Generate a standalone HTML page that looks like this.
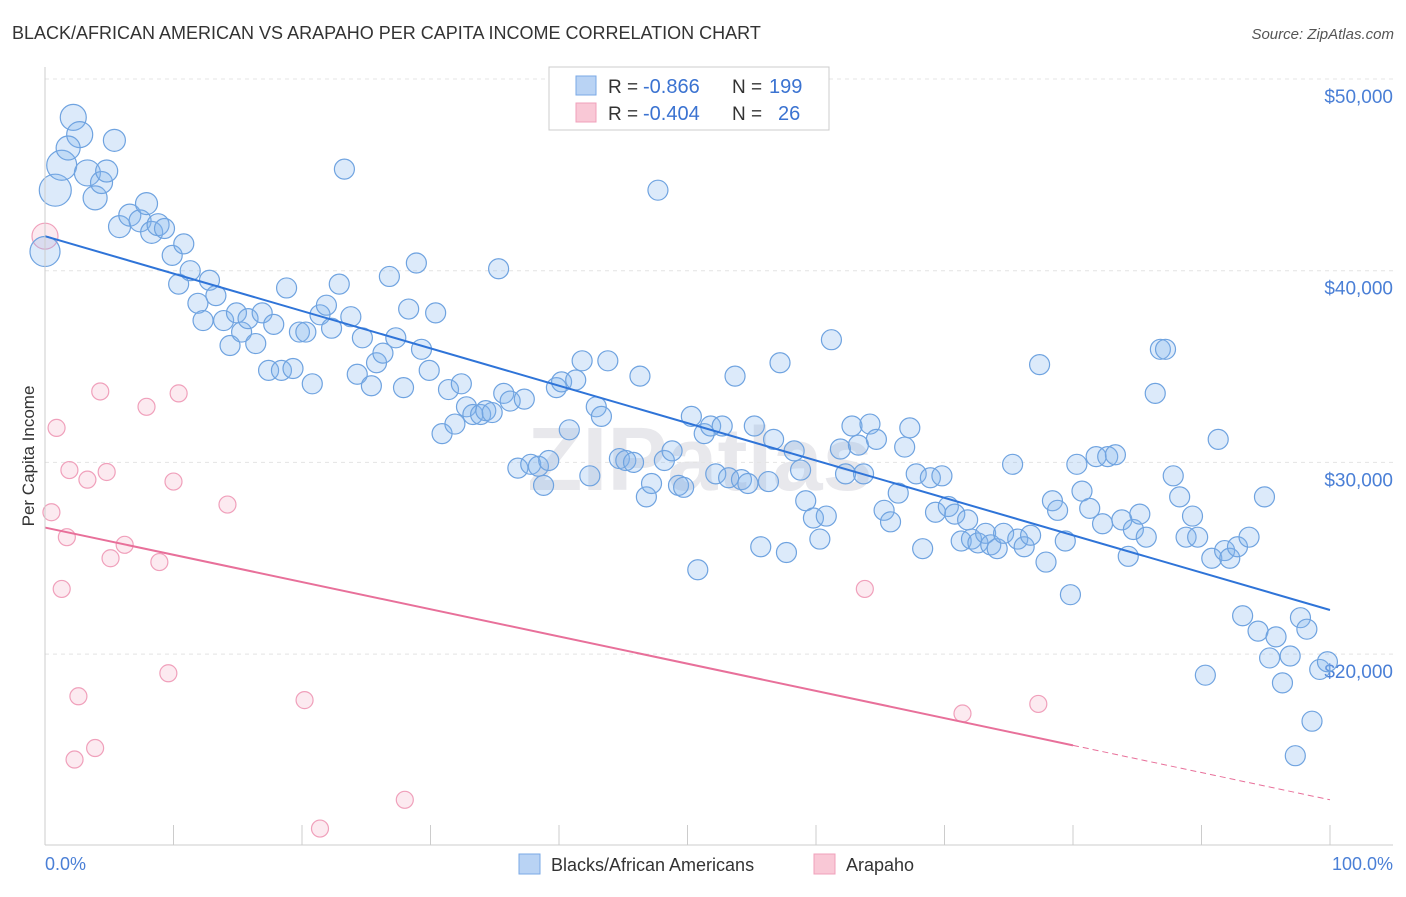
<!DOCTYPE html>
<html><head><meta charset="utf-8">
<style>
body{margin:0;background:#fff;font-family:"Liberation Sans",sans-serif;}
svg text{font-family:"Liberation Sans",sans-serif;}
</style></head>
<body>
<svg id="chart" width="1406" height="892" xmlns="http://www.w3.org/2000/svg">
<text x="12" y="39" font-size="18" fill="#333">BLACK/AFRICAN AMERICAN VS ARAPAHO PER CAPITA INCOME CORRELATION CHART</text>
<text x="1394" y="39" font-size="15" fill="#555" font-style="italic" text-anchor="end">Source: ZipAtlas.com</text>
<text x="34" y="456" font-size="17" fill="#333" text-anchor="middle" transform="rotate(-90 34 456)">Per Capita Income</text>
<text x="700" y="490" font-size="90" fill="#e8e8ec" font-weight="bold" text-anchor="middle">ZIPatlas</text>
<g id="grid"></g>
<g id="pinkPts"></g>
<g id="bluePts"></g>
<g id="lines"></g>
<line x1="45" y1="845" x2="1393" y2="845" stroke="#ccc"/>
<line x1="45" y1="67" x2="45" y2="845" stroke="#ccc"/>
<text x="45" y="870" font-size="18" fill="#4a7fd6" text-anchor="start">0.0%</text>
<text x="1393" y="870" font-size="18" fill="#4a7fd6" text-anchor="end">100.0%</text>
<g>
<rect x="549" y="67" width="280" height="63" fill="#fff" stroke="#ccc"/>
<rect x="576" y="76" width="20" height="19" fill="#b9d3f4" stroke="#7aa8e6"/>
<rect x="576" y="103" width="20" height="19" fill="#f9c8d6" stroke="#f0a0bb"/>
<text x="608" y="93" font-size="19" fill="#333">R =</text>
<text x="643" y="93" font-size="20" fill="#3b73d1">-0.866</text>
<text x="732" y="93" font-size="19" fill="#333">N =</text>
<text x="769" y="93" font-size="20" fill="#3b73d1">199</text>
<text x="608" y="120" font-size="19" fill="#333">R =</text>
<text x="643" y="120" font-size="20" fill="#3b73d1">-0.404</text>
<text x="732" y="120" font-size="19" fill="#333">N =</text>
<text x="778" y="120" font-size="20" fill="#3b73d1">26</text>
</g>
<g>
<rect x="519" y="854" width="21" height="20" fill="#b9d3f4" stroke="#7aa8e6"/>
<text x="551" y="871" font-size="18" fill="#333">Blacks/African Americans</text>
<rect x="814" y="854" width="21" height="20" fill="#f9c8d6" stroke="#f0a0bb"/>
<text x="846" y="871" font-size="18" fill="#333">Arapaho</text>
</g>
</svg>
<script>
const yTicks=[20000,30000,40000,50000];
const yTickLabels=["$20,000","$30,000","$40,000","$50,000"];
const xTicks=[0,10,20,30,40,50,60,70,80,90,100];
const blueX=[0.8,1.3,0,2.2,2.7,1.8,3.3,3.9,4.4,4.8,5.4,5.8,6.6,7.4,7.9,8.3,8.8,9.3,9.9,10.8,10.4,11.3,11.9,12.8,13.3,12.3,13.9,14.4,14.9,15.3,15.8,16.4,16.9,17.4,17.8,18.4,18.8,19.3,19.8,20.3,20.8,21.4,21.9,22.3,22.9,23.3,23.8,24.3,24.7,25.4,25.8,26.3,26.8,27.3,27.9,28.3,28.9,29.3,29.9,30.4,30.9,31.4,31.9,32.4,32.8,33.3,33.9,34.3,34.8,35.3,35.7,36.2,36.8,37.3,37.8,38.4,38.8,39.2,39.8,40.2,40.8,41.3,41.8,42.4,42.9,43.3,43.8,44.7,45.2,45.8,46.3,46.8,47.2,47.7,48.2,48.8,49.3,49.7,50.3,50.8,51.3,51.8,52.2,52.7,53.2,53.7,54.2,54.7,55.2,55.7,56.3,56.7,57.2,57.7,58.3,58.8,59.2,59.8,60.3,60.8,61.2,61.9,62.3,62.8,63.3,63.7,64.2,64.7,65.3,65.8,66.4,66.9,67.3,67.8,68.3,68.9,69.3,69.8,70.3,70.8,71.3,71.8,72.1,72.6,73.2,73.6,74.1,74.6,75.3,75.7,76.2,76.7,77.4,77.9,78.4,78.8,79.4,79.8,80.3,80.7,81.3,81.8,82.3,82.7,83.3,83.8,84.3,84.7,85.2,85.7,86.4,86.8,87.2,87.8,88.3,88.8,89.3,89.7,90.3,90.8,91.3,91.8,92.2,92.8,93.2,93.7,94.4,94.9,95.3,95.8,96.3,96.9,97.3,97.7,98.2,98.6,99.2,99.8];
const blueY=[44.2,45.5,41.0,48.0,47.1,46.4,45.1,43.8,44.6,45.2,46.8,42.3,42.9,42.6,43.5,42.0,42.4,42.2,40.8,41.4,39.3,40.0,38.3,39.5,38.7,37.4,37.4,36.1,37.8,36.8,37.5,36.2,37.8,34.8,37.2,34.8,39.1,34.9,36.8,36.8,34.1,37.7,38.2,37.0,39.3,45.3,37.6,34.6,36.5,34.0,35.2,35.7,39.7,36.5,33.9,38.0,40.4,35.9,34.8,37.8,31.5,33.8,32.0,34.1,32.9,32.5,32.5,32.7,32.6,40.1,33.6,33.2,29.7,33.3,29.9,29.8,28.8,30.1,33.9,34.2,31.7,34.3,35.3,29.3,32.9,32.4,35.3,30.2,30.1,30.0,34.5,28.2,28.9,44.2,30.1,30.6,28.8,28.7,32.4,24.4,31.5,31.9,29.4,31.9,29.2,34.5,29.1,28.9,31.9,25.6,29.0,31.2,35.2,25.3,30.6,29.6,28.0,27.1,26.0,27.2,36.4,30.7,29.4,31.9,30.9,29.4,32.0,31.2,27.5,26.9,28.4,30.8,31.8,29.4,25.5,29.2,27.4,29.3,27.7,27.3,25.9,27.0,26.0,25.8,26.3,25.7,25.5,26.3,29.9,26.0,25.6,26.2,35.1,24.8,28.0,27.5,25.9,23.1,29.9,28.5,27.6,30.3,26.8,30.3,30.4,27.0,25.1,26.5,27.3,26.1,33.6,35.9,35.9,29.3,28.2,26.1,27.2,26.1,18.9,25.0,31.2,25.4,25.0,25.6,22.0,26.1,21.2,28.2,19.8,20.9,18.5,19.9,14.7,21.9,21.3,16.5,19.2,19.6];
const blueR=[16,15,15,13,13,12,13,12,11,11,11,11,11,11,11,11,11];
const pinkX=[0,0.5,0.9,1.3,1.7,1.9,2.3,2.6,3.3,3.9,4.3,4.8,5.1,6.2,7.9,8.9,9.6,10.0,10.4,14.2,20.2,21.4,28.0,63.8,71.4,77.3];
const pinkY=[41.8,27.4,31.8,23.4,26.1,29.6,14.5,17.8,29.1,15.1,33.7,29.5,25.0,25.7,32.9,24.8,19.0,29.0,33.6,27.8,17.6,10.9,12.4,23.4,16.9,17.4];
const blueTrend=[41.8,22.3];
const pinkTrend=[26.6,12.4];
const pinkSolidEnd=80;
const NS="http://www.w3.org/2000/svg";
const X=p=>45+p*12.85;
const Y=k=>79+(50-k)*19.17;
function mk(tag,attrs,parent){const e=document.createElementNS(NS,tag);for(const k in attrs)e.setAttribute(k,attrs[k]);parent.appendChild(e);return e;}
const grid=document.getElementById('grid');
yTicks.forEach((t,i)=>{
 const l=mk('line',{x1:45,x2:1393,y1:Y(t/1000),y2:Y(t/1000),stroke:'#e4e4e4','stroke-dasharray':'4,4'},grid);
 
 
 const tx=mk('text',{x:1393,y:Y(t/1000)+24,'font-size':19,fill:'#4a7fd6','text-anchor':'end'},grid);
 tx.textContent=yTickLabels[i];
 
 
});
xTicks.forEach(t=>{
 const l=mk('line',{x1:X(t),x2:X(t),y1:825,y2:845,stroke:'#ccc'},grid);
 
 
});
const bp=document.getElementById('bluePts');
blueX.forEach((x,i)=>{
 const c=mk('circle',{cx:X(x),cy:Y(blueY[i]),r:blueR[i]||10,fill:'rgba(130,178,238,0.28)',stroke:'#6fa3e0','stroke-width':1.2},bp);
 
 
});
const pp=document.getElementById('pinkPts');
pinkX.forEach((x,i)=>{
 const c=mk('circle',{cx:X(x),cy:Y(pinkY[i]),r:i==0?13:8.5,fill:'rgba(245,170,195,0.25)',stroke:'#f0a0bb','stroke-width':1.2},pp);
 
 
});
const ln=document.getElementById('lines');
const bl=mk('line',{x1:X(0),y1:Y(blueTrend[0]),x2:X(100),y2:Y(blueTrend[1]),stroke:'#2f74d8','stroke-width':2},ln);


const pm=pinkTrend[0]+(pinkTrend[1]-pinkTrend[0])*pinkSolidEnd/100;
const pl=mk('line',{x1:X(0),y1:Y(pinkTrend[0]),x2:X(pinkSolidEnd),y2:Y(pm),stroke:'#e8709a','stroke-width':2},ln);


const pd=mk('line',{x1:X(pinkSolidEnd),y1:Y(pm),x2:X(100),y2:Y(pinkTrend[1]),stroke:'#e8709a','stroke-width':1,'stroke-dasharray':'6,4'},ln);


</script>
</body></html>
